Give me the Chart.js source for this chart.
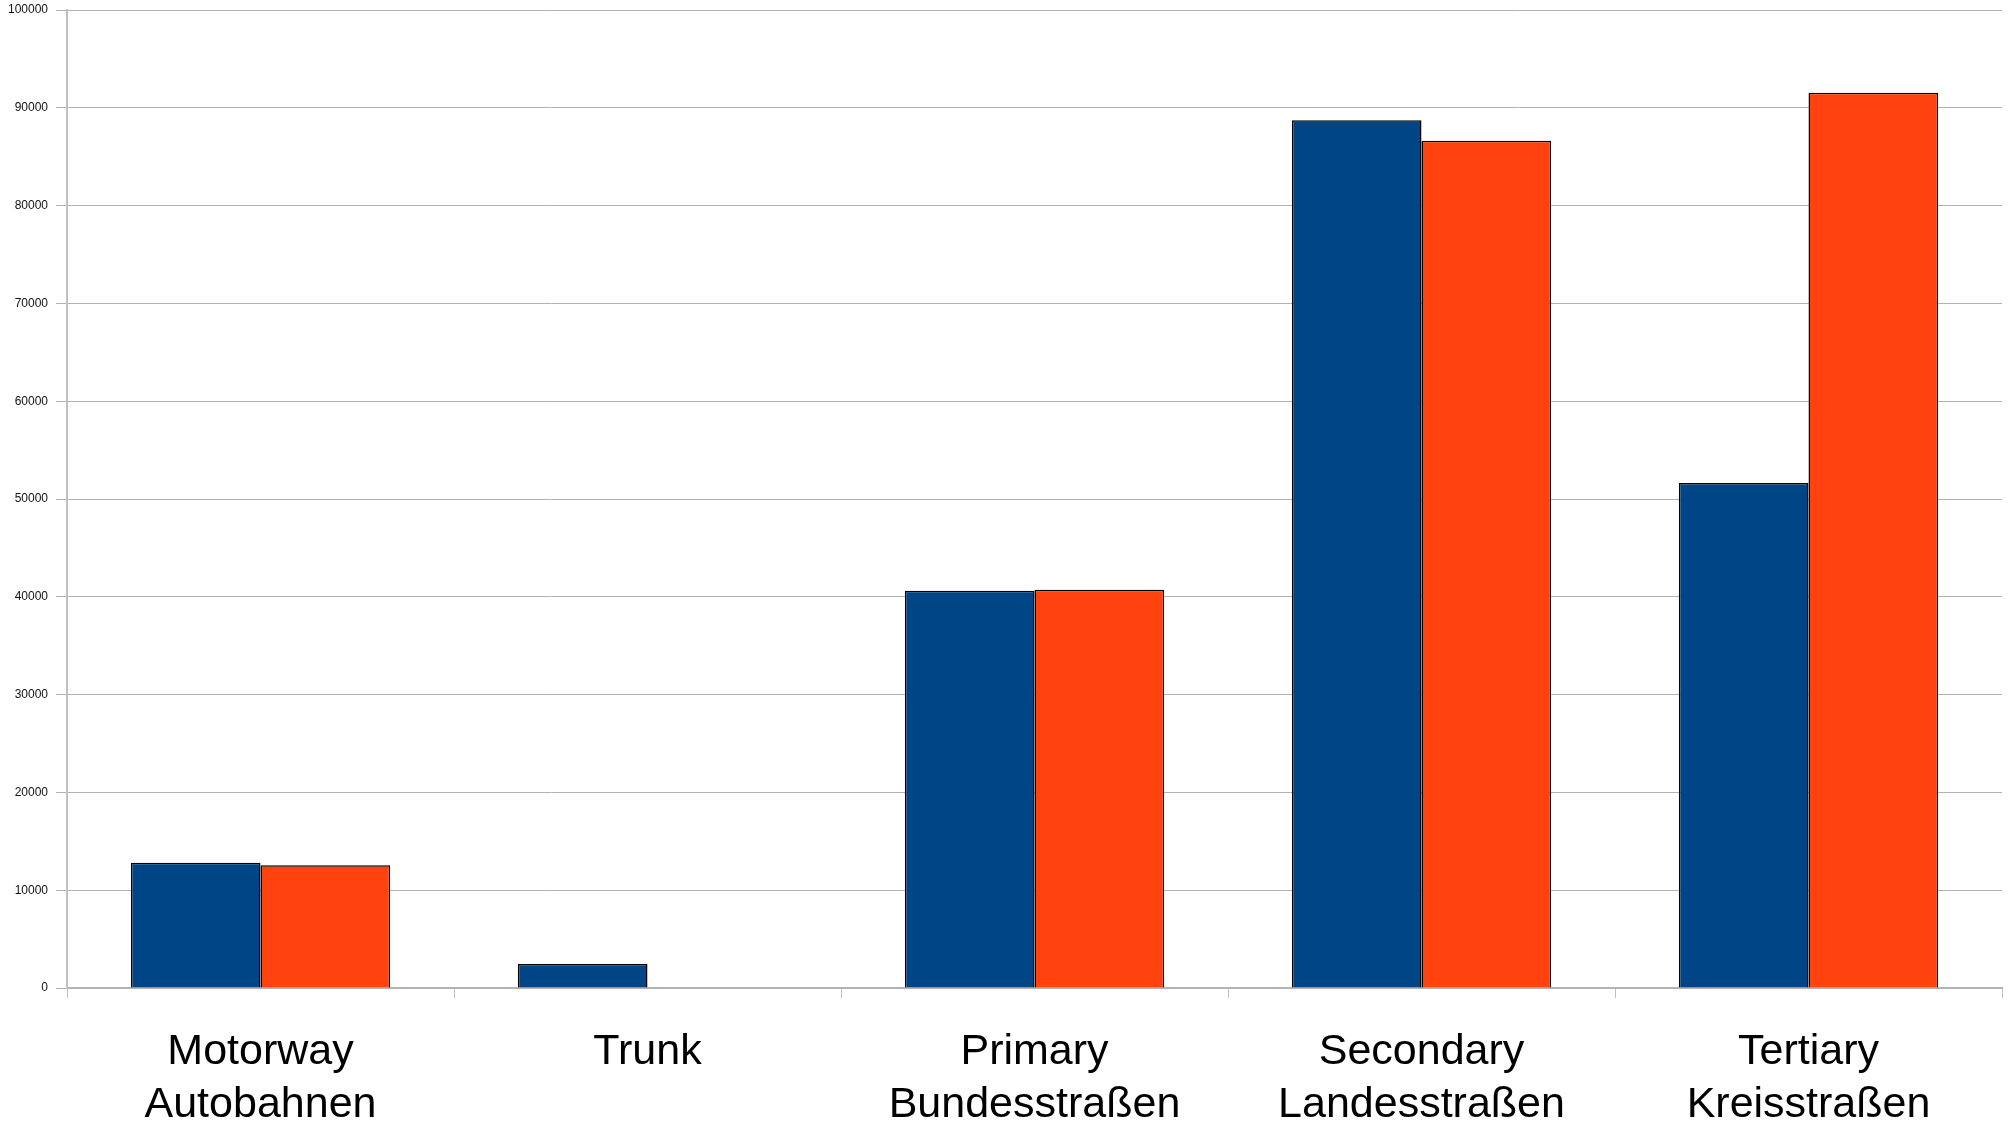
<!DOCTYPE html>
<html>
<head>
<meta charset="utf-8">
<script src="https://cdn.jsdelivr.net/npm/chart.js@4/dist/chart.umd.min.js"></script>
<style>
  html, body { margin: 0; padding: 0; background: #ffffff; }
  #wrap { width: 2015px; height: 1122px; position: relative; }
</style>
</head>
<body>
<div id="wrap"><canvas id="c" width="2015" height="1122"></canvas></div>
<script>
const categories = [
  ["Motorway", "Autobahnen"],
  ["Trunk"],
  ["Primary", "Bundesstraßen"],
  ["Secondary", "Landesstraßen"],
  ["Tertiary", "Kreisstraßen"]
];
const seriesBlue = [12800, 2450, 40620, 88720, 51640];
const seriesOrange = [12550, 0, 40730, 86640, 91550];
const yMin = 0;
const yMax = 100000;
const yStep = 10000;

new Chart(document.getElementById('c'), {
  type: 'bar',
  data: {
    labels: categories,
    datasets: [
      { label: 'Series 1', data: seriesBlue, backgroundColor: '#004586', borderColor: '#000000', borderWidth: 1.5, barPercentage: 1.0, categoryPercentage: 0.67 },
      { label: 'Series 2', data: seriesOrange, backgroundColor: '#ff420e', borderColor: '#000000', borderWidth: 1.5, barPercentage: 1.0, categoryPercentage: 0.67 }
    ]
  },
  options: {
    responsive: false,
    animation: false,
    devicePixelRatio: 1,
    layout: { padding: { top: 10, right: 13, left: 0, bottom: 0 } },
    plugins: { legend: { display: false }, tooltip: { enabled: false } },
    scales: {
      x: {
        offset: true,
        grid: { display: true, drawOnChartArea: false, offset: true, tickLength: 10, color: '#c0c0c0', lineWidth: 1 },
        border: { display: true, color: '#b3b3b3', width: 2 },
        ticks: { color: '#000000', font: { family: '"Liberation Sans", Arial, sans-serif', size: 43, lineHeight: 1.22 }, padding: 28, maxRotation: 0, autoSkip: false },
        afterFit: (s) => { s.height = 134; }
      },
      y: {
        min: yMin, max: yMax,
        grid: { color: '#b3b3b3', lineWidth: 1, tickLength: 11, drawTicks: true },
        border: { display: true, color: '#c0c0c0', width: 2 },
        ticks: { stepSize: yStep, color: '#111111', padding: 8, font: { family: '"Liberation Sans", Arial, sans-serif', size: 12 }, callback: (v) => String(v) },
        afterFit: (s) => { s.width = 67; s.paddingTop = 0; s.paddingBottom = 0; }
      }
    }
  }
});
</script>
</body>
</html>
